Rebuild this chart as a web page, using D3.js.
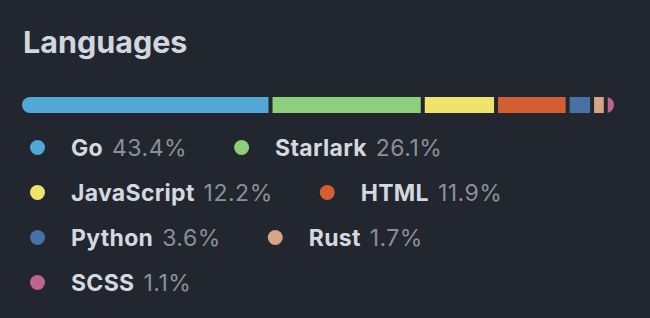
<!DOCTYPE html>
<html>
<head>
<meta charset="utf-8">
<script src="https://cdn.jsdelivr.net/npm/d3@7"></script>
<style>
  html, body { margin: 0; padding: 0; background: #22262f; }
  svg { display: block; font-family: Inter, "Noto Sans", sans-serif; }
</style>
</head>
<body>
<svg id="chart" width="650" height="318"></svg>
<script>
// languages and their share of the repo, in percent
const languages = ['Go', 'Starlark', 'JavaScript', 'HTML', 'Python', 'Rust', 'SCSS']
const shares = [43.4, 26.1, 12.2, 11.9, 3.6, 1.7, 1.1]
const colors = ['#51a8d7', '#8ecf7b', '#eee36b', '#d35e33', '#4871a5', '#d5a585', '#bf628f']

const width = 650, height = 318
const barLeft = 22, barRight = 614, barTop = 97, barH = 16, gap = 4

let svg = d3.select('#chart')

svg.append('rect')
    .attr('width', width)
    .attr('height', height)
    .attr('fill', '#22262f')

svg.append('text')
    .attr('x', 23)
    .attr('y', 53)
    .attr('fill', '#d2d6de')
    .attr('font-size', 30.5)
    .attr('font-weight', 700)
    .text('Languages')

// stacked bar, gaps taken out of the drawable width
let total = d3.sum(shares)
let x = d3.scaleLinear()
    .domain([0, total])
    .range([barLeft, barRight - gap * (shares.length - 1)])

let cum = [0]
shares.forEach((s, i) => cum.push(cum[i] + s))

let defs = svg.append('defs')
defs.append('clipPath')
    .attr('id', 'barClip')
    .append('rect')
        .attr('x', barLeft)
        .attr('y', barTop)
        .attr('width', barRight - barLeft)
        .attr('height', barH)
        .attr('rx', barH / 2)

svg.append('g')
    .attr('clip-path', 'url(#barClip)')
    .selectAll('rect')
    .data(shares)
    .join('rect')
        .attr('x', (d, i) => x(cum[i]) + i * gap)
        .attr('y', barTop)
        .attr('width', (d, i) => x(cum[i + 1]) - x(cum[i]))
        .attr('height', barH)
        .attr('fill', (d, i) => colors[i])

// legend, laid out like wrapping inline items
const rowStart = 30, rowWrap = 614, rowY0 = 147.5, rowStep = 45
const dotR = 7.5, textOff = 41, itemGap = 47, fontSize = 23

let legend = svg.append('g')
let cx = rowStart, row = 0

languages.forEach((name, i) => {
    let item = legend.append('g')

    item.append('circle')
        .attr('cx', dotR)
        .attr('r', dotR)
        .attr('fill', colors[i])

    let label = item.append('text')
        .attr('x', textOff)
        .attr('y', 8.5)
        .attr('font-size', fontSize)

    label.append('tspan')
        .attr('font-weight', 700)
        .attr('fill', '#d4d8df')
        .attr('letter-spacing', 0.3)
        .text(name)

    label.append('tspan')
        .attr('fill', '#8b9098')
        .attr('dx', 9)
        .attr('letter-spacing', 0.5)
        .text(shares[i].toFixed(1) + '%')

    let w = textOff + label.node().getComputedTextLength() + 9
    if (cx + w > rowWrap && cx > rowStart) {
        row++
        cx = rowStart
    }
    item.attr('transform', 'translate(' + cx + ',' + (rowY0 + row * rowStep) + ')')
    cx += w + itemGap
})
</script>
</body>
</html>
